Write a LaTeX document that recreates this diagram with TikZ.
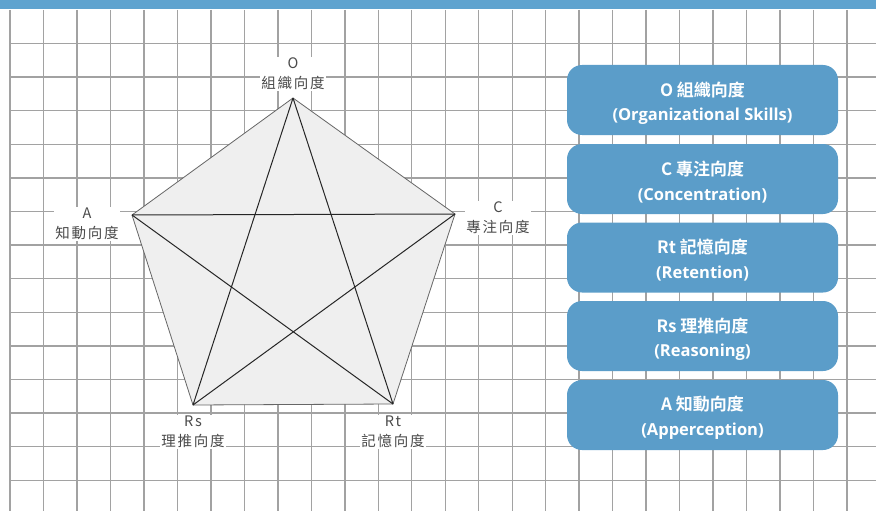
\documentclass[tikz,border=0pt]{standalone}
\usepackage{fontspec}
\setmainfont{Noto Sans CJK TC}
\newfontfamily\cjkb{Noto Sans CJK TC Bold}
\newfontfamily\cjksp[LetterSpace=12]{Noto Sans CJK TC}
\newfontfamily\latb{Open Sans}
\definecolor{barblue}{HTML}{5FA3CF}
\definecolor{boxblue}{HTML}{5B9DC9}
\definecolor{gridgray}{HTML}{A2A2A2}
\definecolor{lblgray}{HTML}{4A4A4A}
\definecolor{pentfill}{HTML}{EFEFEF}
\tikzset{
  vlabel/.style={fill=white, text=lblgray, align=center, inner sep=1pt,
    font=\cjksp\fontsize{14.5}{20}\selectfont},
  infobox/.style={fill=boxblue, rounded corners=15pt, minimum width=271pt,
    minimum height=70pt, inner sep=0pt},
  boxtitle/.style={text=white, font=\cjkb\fontsize{17}{18}\selectfont},
  boxsub/.style={text=white, font=\latb\bfseries\fontsize{16.5}{18}\selectfont},
  outline/.style={draw=black!60, line width=0.8pt, fill=pentfill},
  starline/.style={draw=black!85, line width=1pt},
}
\begin{document}
\begin{tikzpicture}[x=1pt,y=-1pt]
\useasboundingbox (0,0) rectangle (876,511);
\fill[white] (0,0) rectangle (876,511);
% grid
\foreach \i in {0,...,25} {
  \draw[gridgray, line width=1.4pt] ({10+33.48*\i},10) -- ({10+33.48*\i},511);
}
\foreach \j in {0,...,13} {
  \draw[gridgray, line width=1.4pt] (10,{43.5+33.6*\j}) -- (876,{43.5+33.6*\j});
}
% top bar
\fill[barblue] (0,0) rectangle (876,9.5);
% pentagon
\coordinate (O) at (293,98);
\coordinate (C) at (455,214);
\coordinate (Rt) at (393,404);
\coordinate (Rs) at (193,405);
\coordinate (A) at (132,215);
\path[outline] (O) -- (C) -- (Rt) -- (Rs) -- (A) -- cycle;
\draw[starline] (O) -- (Rs);
\draw[starline] (O) -- (Rt);
\draw[starline] (A) -- (C);
\draw[starline] (A) -- (Rt);
\draw[starline] (C) -- (Rs);
% vertex labels
\node[vlabel] (lO) at (293,74) {O\\組織向度};
\node[vlabel] (lC) at (498,218) {C\\專注向度};
\node[vlabel] (lA) at (87,224) {A\\知動向度};
\node[vlabel] (lRs) at (193,432) {Rs\\理推向度};
\node[vlabel] (lRt) at (393,432) {Rt\\記憶向度};
% info boxes
\foreach \n/\y/\t/\s in {
  bO/100/{O 組織向度}/{(Organizational Skills)},
  bC/179/{C 專注向度}/{(Concentration)},
  bRt/257.5/{Rt 記憶向度}/{(Retention)},
  bRs/336/{Rs 理推向度}/{(Reasoning)},
  bA/415/{A 知動向度}/{(Apperception)}} {
  \node[infobox] (\n) at (702.5,\y) {};
  \node[boxtitle] (\n t) at (702.5,\y-10.5) {\t};
  \node[boxsub] (\n s) at (702.5,\y+16.5) {\s};
}
\end{tikzpicture}
\end{document}
